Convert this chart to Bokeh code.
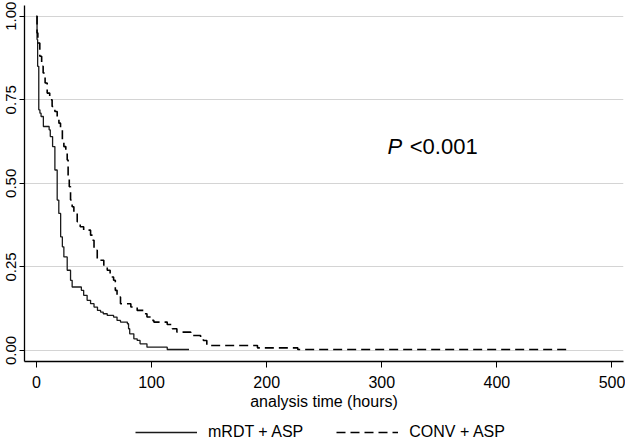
from bokeh.plotting import figure
from bokeh.layouts import column
from bokeh.models import Legend, LegendItem, FixedTicker, Range1d, NumeralTickFormatter
from bokeh.core.properties import value
from bokeh.embed import file_html
from bokeh.resources import INLINE

# Kaplan-Meier estimates
mrdt_time = [0, 0.5, 1, 2, 3, 4, 6, 11, 12, 14, 16, 18, 19.4, 21, 22.5, 23.8, 26.7, 29.6, 31,
             39, 41, 44, 47, 50, 53, 55.7, 58, 61.5, 67, 70, 73, 79, 80, 81, 84.6, 87.5, 90,
             96, 113.6, 132.5]
mrdt_surv = [1.0, 0.93, 0.85, 0.72, 0.71, 0.70, 0.67, 0.66, 0.64, 0.61, 0.54, 0.45, 0.41, 0.34,
             0.31, 0.28, 0.24, 0.21, 0.19, 0.18, 0.165, 0.15, 0.14, 0.13, 0.12, 0.115, 0.11,
             0.105, 0.10, 0.09, 0.085, 0.08, 0.065, 0.05, 0.035, 0.03, 0.02, 0.01, 0.003, 0.003]

conv_time = [0, 0.5, 1.2, 2.9, 4.5, 5.8, 7.5, 9.3, 11.5, 13.6, 16, 18, 19.5, 20.9, 22.5, 23.8,
             25.5, 26.7, 27.5, 28.5, 29.6, 31, 32.5, 35.4, 38, 41, 47, 48.4, 50, 52.8, 58.5,
             61.5, 64, 67, 68.5, 70, 73, 82, 87.5, 93, 96, 100, 102, 113.6, 118, 122, 134,
             142.6, 145, 148, 192, 227, 461]
conv_surv = [1.0, 0.95, 0.92, 0.88, 0.85, 0.83, 0.80, 0.77, 0.75, 0.73, 0.715, 0.70, 0.68, 0.66,
             0.63, 0.61, 0.59, 0.57, 0.52, 0.49, 0.45, 0.43, 0.41, 0.385, 0.37, 0.36, 0.345,
             0.33, 0.30, 0.27, 0.255, 0.24, 0.22, 0.21, 0.18, 0.16, 0.14, 0.13, 0.12, 0.11,
             0.10, 0.09, 0.085, 0.078, 0.065, 0.055, 0.045, 0.04, 0.03, 0.015, 0.008, 0.003,
             0.003]

x_ticks = [0, 100, 200, 300, 400, 500]
y_ticks = [0, 0.25, 0.5, 0.75, 1.0]
series_names = ["mRDT + ASP", "CONV + ASP"]
x_label = "analysis time (hours)"
p_label_italic = "P"
p_label_rest = "<0.001"

FONT = "Liberation Sans"
SOLID = dict(line_color="#1a1a1a", line_width=1.3)
DASHED = dict(line_color="black", line_width=1.6, line_dash="9 5")

p = figure(frame_width=599, frame_height=356, output_backend="svg", toolbar_location=None,
           x_range=Range1d(-10.4, 510), y_range=Range1d(-0.0329, 1.032),
           min_border_left=24, min_border_right=2, min_border_top=5, min_border_bottom=0)
p.outline_line_color = None
p.background_fill_color = "white"
p.border_fill_color = "white"

p.step(mrdt_time, mrdt_surv, mode="after", **SOLID)
p.step(conv_time, conv_surv, mode="after", **DASHED)

# axes
p.xaxis.ticker = FixedTicker(ticks=x_ticks)
p.yaxis.ticker = FixedTicker(ticks=y_ticks)
p.yaxis.formatter = NumeralTickFormatter(format="0.00")
for ax in (p.xaxis, p.yaxis):
    ax.axis_line_color = "black"
    ax.axis_line_width = 1.3
    ax.major_tick_line_color = "black"
    ax.major_tick_line_width = 1
    ax.major_tick_out = 6
    ax.major_tick_in = 0
    ax.minor_tick_line_color = None
    ax.major_label_text_font = FONT
    ax.major_label_text_color = "black"
    ax.axis_label_text_font = FONT
    ax.axis_label_text_font_style = "normal"
    ax.axis_label_text_color = "black"
p.xaxis.major_label_text_font_size = "16px"
p.xaxis.major_label_standoff = 8
p.xaxis.axis_label = x_label
p.xaxis.axis_label_text_font_size = "16px"
p.xaxis.axis_label_standoff = 2
p.yaxis.major_tick_out = 5
p.yaxis.major_label_text_font_size = "15px"
p.yaxis.major_label_orientation = "vertical"
p.yaxis.major_label_standoff = 3

p.xgrid.grid_line_color = None
p.ygrid.grid_line_color = "#d4d4d4"
p.ygrid.grid_line_width = 1
p.ygrid.ticker = FixedTicker(ticks=y_ticks)

# p-value annotation
p.text(x=[305], y=[0.611], text=[p_label_italic], text_font=value(FONT), text_font_size="22px",
       text_font_style="italic", text_baseline="alphabetic", text_align="left", text_color="black")
p.text(x=[324.3], y=[0.611], text=[p_label_rest], text_font=value(FONT), text_font_size="22px",
       text_baseline="alphabetic", text_align="left", text_color="black")

# legend strip below the plot
leg = figure(width=625, height=30, output_backend="svg", toolbar_location=None,
             x_range=Range1d(0, 1), y_range=Range1d(0, 1), x_axis_type=None, y_axis_type=None,
             min_border_left=0, min_border_right=0, min_border_top=0, min_border_bottom=0)
leg.outline_line_color = None
leg.xgrid.grid_line_color = None
leg.ygrid.grid_line_color = None
leg.border_fill_color = "white"
# off-range proxies so the legend can draw its line samples
d1 = leg.line(x=[2, 3], y=[2, 3], **SOLID)
d2 = leg.line(x=[2, 3], y=[2, 3], **DASHED)

legend = Legend(items=[LegendItem(label=series_names[0], renderers=[d1]),
                       LegendItem(label=series_names[1], renderers=[d2])],
                orientation="horizontal", location=(111, 0))
legend.border_line_color = None
legend.background_fill_alpha = 0
legend.label_text_font = FONT
legend.label_text_font_size = "16px"
legend.label_text_color = "black"
legend.glyph_width = 62
legend.label_standoff = 11
legend.spacing = 33
legend.padding = 0
legend.margin = 0
leg.add_layout(legend)

layout = column(p, leg, spacing=0)
open("out.html", "w").write(file_html(layout, INLINE))
